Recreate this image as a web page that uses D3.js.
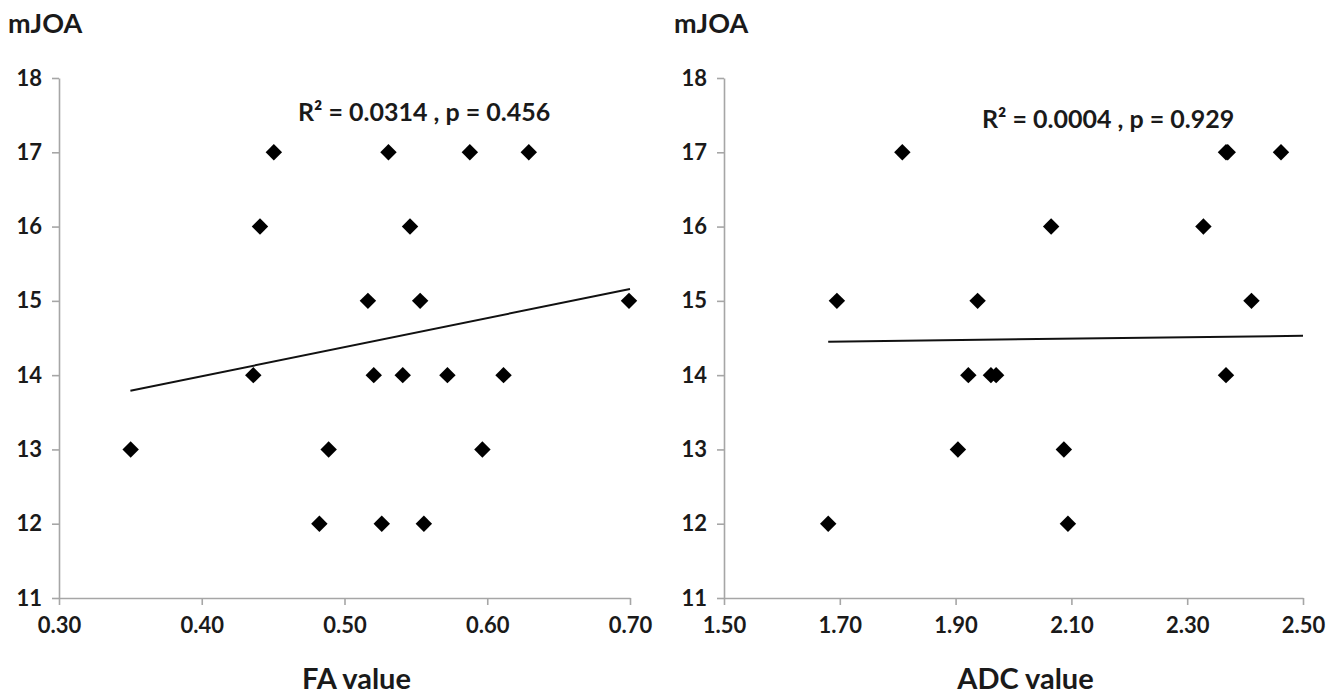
<!DOCTYPE html>
<html>
<head>
<meta charset="utf-8">
<script src="https://cdn.jsdelivr.net/npm/d3@7"></script>
<style>
  body { margin: 0; background: #fff; }
  svg text { font-family: Lato, "Open Sans", sans-serif; font-weight: bold; fill: #1a1a1a; }
</style>
</head>
<body>
<svg id="chart" width="1337" height="695"></svg>
<script>
// mJOA score ticks shared by both panels
const scoreTicks = [11, 12, 13, 14, 15, 16, 17, 18];

// left panel: FA value vs mJOA
const faTicks = [0.30, 0.40, 0.50, 0.60, 0.70];
const faValues = [0.4505, 0.5308, 0.5878, 0.6291, 0.4408, 0.5459, 0.5164, 0.5530, 0.6993,
    0.4361, 0.5205, 0.5408, 0.5721, 0.6114, 0.3502, 0.4889, 0.5966, 0.4824, 0.5261, 0.5556];
const faScores = [17, 17, 17, 17, 16, 16, 15, 15, 15, 14, 14, 14, 14, 14, 13, 13, 13, 12, 12, 12];
const faTrendX = [0.35, 0.70];
const faTrendY = [13.79, 15.16];

// right panel: ADC value vs mJOA
const adcTicks = [1.50, 1.70, 1.90, 2.10, 2.30, 2.50];
const adcValues = [1.808, 2.367, 2.370, 2.462, 2.065, 2.328, 1.695, 1.938, 2.411,
    1.922, 1.961, 1.970, 2.367, 1.904, 2.087, 1.680, 2.094];
const adcScores = [17, 17, 17, 17, 16, 16, 15, 15, 15, 14, 14, 14, 14, 13, 13, 12, 12];
const adcTrendX = [1.68, 2.50];
const adcTrendY = [14.45, 14.53];

const svg = d3.select("#chart");

const panels = [
    { left: 59, right: 630, xTicks: faTicks, xs: faValues, ys: faScores,
      tx: faTrendX, ty: faTrendY, title: "FA value",
      stat: "R² = 0.0314 , p = 0.456", statX: 298, statY: 121, yLabelX: 8 },
    { left: 724, right: 1303, xTicks: adcTicks, xs: adcValues, ys: adcScores,
      tx: adcTrendX, ty: adcTrendY, title: "ADC value",
      stat: "R² = 0.0004 , p = 0.929", statX: 982, statY: 128, yLabelX: 674 }
];

const plotTop = 78, plotBottom = 598;
const axisColor = "#a6a6a6";

panels.forEach(p => {
    const x = d3.scaleLinear()
        .domain(d3.extent(p.xTicks))
        .range([p.left, p.right]);
    const y = d3.scaleLinear()
        .domain(d3.extent(scoreTicks))
        .range([plotBottom, plotTop]);

    const g = svg.append("g");

    // y axis
    const yAxis = g.append("g")
        .attr("transform", `translate(${p.left},0)`)
        .call(d3.axisLeft(y).tickValues(scoreTicks).tickFormat(d3.format("d"))
            .tickSize(7).tickSizeOuter(0).tickPadding(10));

    // x axis
    const xAxis = g.append("g")
        .attr("transform", `translate(0,${plotBottom})`)
        .call(d3.axisBottom(x).tickValues(p.xTicks).tickFormat(d3.format(".2f"))
            .tickSize(7).tickSizeOuter(0).tickPadding(12));

    [yAxis, xAxis].forEach(a => {
        a.select(".domain").attr("stroke", axisColor).attr("stroke-width", 1.6);
        a.selectAll(".tick line").attr("stroke", axisColor).attr("stroke-width", 1.6);
        a.selectAll("text").attr("font-size", 22).attr("fill", "#1a1a1a");
    });

    // trend line
    g.append("line")
        .attr("x1", x(p.tx[0])).attr("y1", y(p.ty[0]))
        .attr("x2", x(p.tx[1])).attr("y2", y(p.ty[1]))
        .attr("stroke", "#111")
        .attr("stroke-width", 2);

    // diamond markers
    const diamond = d3.symbol().type(d3.symbolSquare).size(135);
    g.selectAll(".pt")
        .data(p.xs.map((v, i) => [v, p.ys[i]]))
        .enter().append("path")
        .attr("class", "pt")
        .attr("d", diamond)
        .attr("transform", d => `translate(${x(d[0])},${y(d[1])}) rotate(45)`)
        .attr("fill", "#000");

    // texts
    g.append("text")
        .attr("x", p.yLabelX).attr("y", 33)
        .attr("font-size", 27)
        .text("mJOA");

    g.append("text")
        .attr("x", p.statX).attr("y", p.statY)
        .attr("font-size", 25)
        .text(p.stat);

    g.append("text")
        .attr("x", (p.left + p.right) / 2 + 12).attr("y", 689)
        .attr("text-anchor", "middle")
        .attr("font-size", 29)
        .text(p.title);
});
</script>
</body>
</html>
